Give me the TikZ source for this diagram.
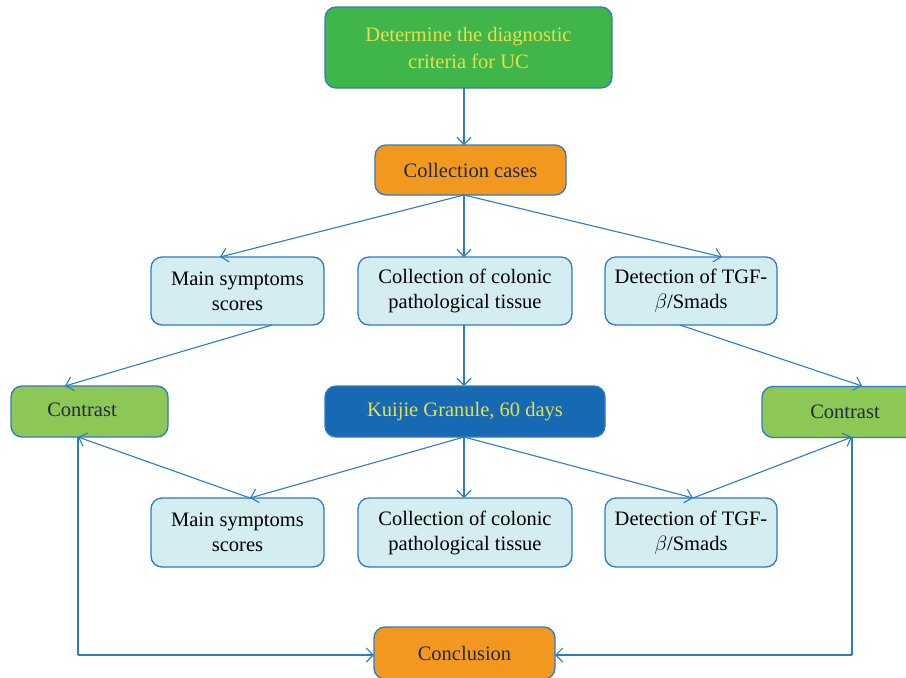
\documentclass[tikz,border=0pt]{standalone}
\usepackage{fontspec}
\setmainfont{Liberation Serif}
\usetikzlibrary{arrows.meta}
\definecolor{edgeblue}{HTML}{2F7BC6}
\definecolor{topgreen}{HTML}{3FB54A}
\definecolor{orangefill}{HTML}{F3981F}
\definecolor{lightblue}{HTML}{D3EDF1}
\definecolor{contrastgreen}{HTML}{8DC756}
\definecolor{darkblue}{HTML}{1769B3}
\definecolor{yellowtext}{HTML}{E6E04A}
\definecolor{navytext}{HTML}{1F2A44}
\tikzset{
  basebox/.style={draw=edgeblue, line width=1.3pt, rounded corners=11pt, align=center, inner sep=0pt, outer sep=0pt, font=\fontsize{20.5}{25}\selectfont},
  topbox/.style={basebox, fill=topgreen, text=yellowtext, minimum width=287pt, minimum height=81pt, font=\fontsize{20.5}{27}\selectfont},
  orangebox/.style={basebox, fill=orangefill, text=navytext, minimum width=191pt, minimum height=50pt},
  bluebox/.style={basebox, fill=lightblue, text=black},
  contrastbox/.style={basebox, fill=contrastgreen, text=navytext, minimum height=51pt},
  kuijiebox/.style={basebox, fill=darkblue, text=yellowtext, minimum width=280pt, minimum height=51pt},
  conn/.style={draw=edgeblue, line width=1.1pt, -{Straight Barb[length=7pt,width=14pt,line width=1.1pt]}},
  plain/.style={draw=edgeblue, line width=1.1pt}
}
\begin{document}
\begin{tikzpicture}[x=1pt,y=-1pt]
\useasboundingbox (0,0) rectangle (906,678);
\clip (0,0) rectangle (906,678);
\fill[white] (0,0) rectangle (906,678);
% nodes
\node[topbox] (top) at (468.5,47.5) {Determine the diagnostic\\criteria for UC};
\node[orangebox] (cases) at (470.5,170) {Collection cases};
\node[bluebox, minimum width=173pt, minimum height=68pt] (ms1) at (237.5,291) {Main symptoms\\scores};
\node[bluebox, minimum width=214pt, minimum height=68pt] (ct1) at (465,291) {Collection of colonic\\pathological tissue};
\node[bluebox, minimum width=172pt, minimum height=68pt] (dt1) at (691,291) {Detection of TGF-\\$\beta$/Smads};
\node[contrastbox, minimum width=157pt] (cl) at (89.5,411.5) {};
\node[font=\fontsize{20.5}{25}\selectfont, text=navytext] at (82,409.5) {Contrast};
\node[contrastbox, minimum width=166pt] (cr) at (845,412) {Contrast};
\node[kuijiebox] (kj) at (465,411.5) {Kuijie Granule, 60 days};
\node[bluebox, minimum width=173pt, minimum height=69pt] (ms2) at (237.5,532.5) {Main symptoms\\scores};
\node[bluebox, minimum width=214pt, minimum height=69pt] (ct2) at (465,532.5) {Collection of colonic\\pathological tissue};
\node[bluebox, minimum width=172pt, minimum height=69pt] (dt2) at (691,532.5) {Detection of TGF-\\$\beta$/Smads};
\node[orangebox, minimum width=181pt, minimum height=52pt] (conc) at (464.5,653) {Conclusion};
% coordinates
\coordinate (casesb) at (464,195);
\coordinate (kjb) at (464,437);
\coordinate (clb) at (78,437);
\coordinate (crb) at (852,437);
\coordinate (lcorner) at (78,655);
\coordinate (rcorner) at (852,655);
% connectors
\draw[conn] (464,88) -- (464,145);
\draw[conn] (casesb) -- (220,257);
\draw[conn] (casesb) -- (464,257);
\draw[conn] (casesb) -- (722,257);
\draw[conn] (272,325) -- (65,386);
\draw[conn] (680,325) -- (862,386);
\draw[conn] (464,325) -- (464,386);
\draw[conn] (kjb) -- (250,498);
\draw[conn] (kjb) -- (464,498);
\draw[conn] (kjb) -- (693,498);
\draw[conn] (250,498) -- (clb);
\draw[conn] (693,498) -- (crb);
\draw[plain] (clb) -- (lcorner);
\draw[conn] (lcorner) -- (374,655);
\draw[plain] (crb) -- (rcorner);
\draw[conn] (rcorner) -- (555,655);
\end{tikzpicture}
\end{document}
